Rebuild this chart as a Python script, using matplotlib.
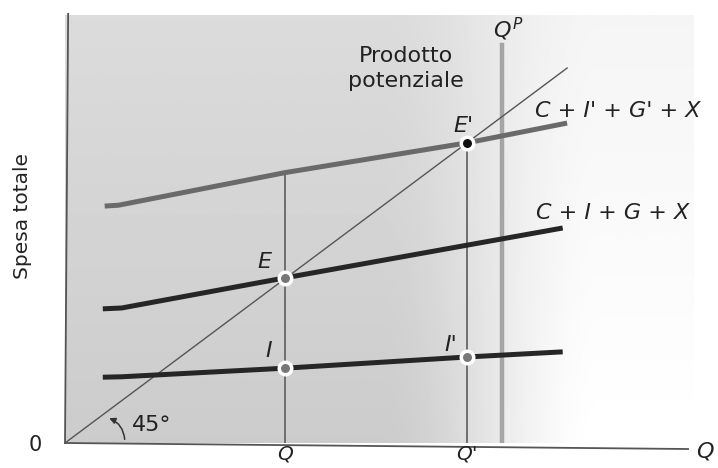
import numpy as np
import matplotlib
matplotlib.use("Agg")
import matplotlib.pyplot as plt

plt.rcParams['font.family'] = ['DejaVu Sans']
plt.rcParams['mathtext.fontset'] = 'dejavusans'

# ---- data (arbitrary units, origin at 0) ----
q_eq = 34.9          # Q
q_eq2 = 63.8         # Q'
q_pot = 69.4         # Q^P (potential output)
qp_top = 92.6

diag_x = [0.0, 79.7]
diag_y = [0.0, 87.2]

top_x = [6.3, 8.5, 35.0, 63.8, 79.7]       # C + I' + G' + X
top_y = [55.1, 55.3, 62.9, 69.8, 74.4]
mid_x = [6.0, 9.0, 34.9, 79.0]             # C + I + G + X
mid_y = [31.2, 31.4, 38.4, 50.0]
low_x = [6.0, 9.0, 34.9, 63.8, 79.0]       # investment line
low_y = [15.3, 15.4, 17.4, 20.0, 21.2]

pts_grey = [(34.9, 38.4), (34.9, 17.4), (63.8, 20.0)]   # E, I, I'
pt_black = (63.8, 69.8)                                   # E'

W, H = 718, 468
fig = plt.figure(figsize=(W / 100, H / 100), dpi=100)
ox, oy = 65, 443
sx, sy = 6.3, 4.3
ax = fig.add_axes([ox / W, (H - oy) / H, 100 * sx / W, 100 * sy / H])
ax.set_xlim(0, 100)
ax.set_ylim(0, 100)
ax.axis('off')

# background shading
gx = np.linspace(0, 100, 300)
gy = np.linspace(0, 100, 200)
X, Y = np.meshgrid(gx, gy)
s = np.clip((X - 50) / 35, 0, 1)
s = s * s * (3 - 2 * s)
V = 0.80 + 0.06 * Y / 100 + 0.20 * s * (1 - 0.5 * Y / 100)
V = np.clip(V, 0, 1)
ax.imshow(V, extent=[0, 99.7, 0, 99.5], origin='lower', cmap='gray',
          vmin=0, vmax=1, aspect='auto', zorder=0)

# axes lines
ax.plot([0, 98.9], [0, -1.4], color='#555555', lw=1.3, clip_on=False, zorder=2)
ax.plot([0, 0.5], [0, 99.8], color='#555555', lw=1.3, clip_on=False, zorder=2)

# 45 degree line
ax.plot(diag_x, diag_y, color='#555555', lw=1.0, zorder=3)

# potential output
ax.plot([q_pot, q_pot], [0, qp_top], color='#a5a5a5', lw=3.2, zorder=2)

# verticals
ax.plot([q_eq, q_eq], [0, top_y[2]], color='#666666', lw=1.3, zorder=2)
ax.plot([q_eq2, q_eq2], [0, pt_black[1]], color='#666666', lw=1.3, zorder=2)

# curves
ax.plot(top_x, top_y, color='#6a6a6a', lw=3.6, solid_capstyle='butt', zorder=4)
ax.plot(mid_x, mid_y, color='#262626', lw=3.6, solid_capstyle='butt', zorder=4)
ax.plot(low_x, low_y, color='#262626', lw=3.6, solid_capstyle='butt', zorder=4)

for (px, py) in pts_grey:
    ax.plot(px, py, 'o', ms=9, mfc='#777777', mec='white', mew=2.5, zorder=5)
ax.plot(*pt_black, 'o', ms=9, mfc='#111111', mec='white', mew=2.5, zorder=5)

# 45 degree arc
ax.annotate('', xy=(6.6, 6.0), xytext=(9.5, 0.2),
            arrowprops=dict(arrowstyle='-|>', color='#333333', lw=1.1,
                            connectionstyle='arc3,rad=0.35', mutation_scale=9),
            zorder=5)

c = '#222222'
ax.text(13.8, 4.2, '45°', fontsize=16, color=c, ha='center', va='center')
ax.text(-4.8, -0.5, '0', fontsize=15, color=c, ha='center', va='center', clip_on=False)
ax.text(q_eq, -0.4, 'Q', fontsize=14.5, style='italic', color=c, ha='center', va='top', clip_on=False)
ax.text(q_eq2, -0.4, "Q'", fontsize=14.5, style='italic', color=c, ha='center', va='top', clip_on=False)
ax.text(101.5, -2.0, 'Q', fontsize=16, style='italic', color=c, ha='center', va='center', clip_on=False)
ax.text(32.4, 21.4, 'I', fontsize=16, style='italic', color=c, ha='center', va='center')
ax.text(61.3, 22.7, "I'", fontsize=16, style='italic', color=c, ha='center', va='center')
ax.text(31.6, 42.0, 'E', fontsize=16, style='italic', color=c, ha='center', va='center')
ax.text(63.3, 73.7, "E'", fontsize=16, style='italic', color=c, ha='center', va='center')
ax.text(70.4, 96.2, r'$Q^{P}$', fontsize=16, color=c, ha='center', va='center', clip_on=False)
ax.text(54.1, 89.9, 'Prodotto', fontsize=16, color=c, ha='center', va='center')
ax.text(54.1, 84.2, 'potenziale', fontsize=16, color=c, ha='center', va='center')
ax.text(74.6, 77.3, "C + I' + G' + X", fontsize=16, style='italic', color=c,
        ha='left', va='center', clip_on=False)
ax.text(74.8, 53.6, "C + I + G + X", fontsize=16, style='italic', color=c,
        ha='left', va='center', clip_on=False)

fig.text(23 / W, 1 - 216 / H, 'Spesa totale', rotation=90, fontsize=14.5,
         color=c, ha='center', va='center')

fig.savefig('out.png', dpi=100)
